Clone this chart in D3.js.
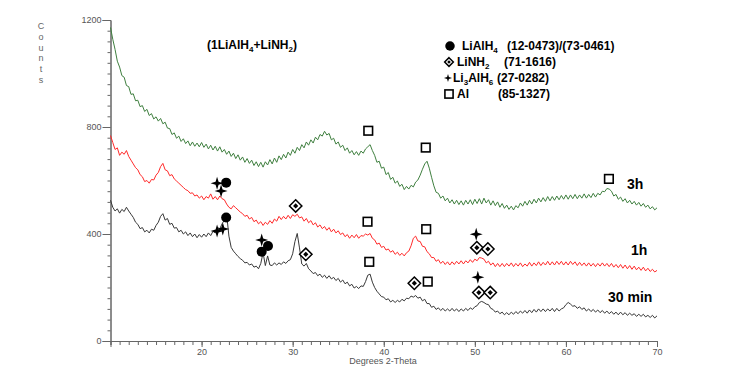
<!DOCTYPE html>
<html>
<head>
<meta charset="utf-8">
<script src="https://cdn.jsdelivr.net/npm/d3@7"></script>
<style>
body { margin: 0; background: #fff; }
</style>
</head>
<body>
<div id="chart"></div>
<script>
// 2-theta grid, 0.25 deg step from 10 to 70
var twoTheta = d3.range(241).map(function(i) { return 10 + i * 0.25; });

var counts3h = [
1172,1128,1090,1046,1024,992,986,955,951,922,924,898,900,876,880,858,866,843,850,830,
838,822,832,812,818,796,794,772,778,758,766,746,756,738,748,730,744,728,740,726,
742,724,736,718,732,714,728,710,726,706,716,698,710,690,702,682,696,676,688,668,
682,664,676,656,670,652,668,650,670,658,678,662,684,668,692,678,698,684,706,694,
716,702,724,712,734,722,744,732,752,740,762,752,772,766,784,770,776,752,758,736,
744,724,732,712,722,702,712,696,708,694,710,702,718,726,734,712,694,668,672,646,
650,622,630,604,612,590,598,578,586,566,578,568,582,576,594,602,620,642,662,672,
646,612,580,556,552,534,542,524,534,516,528,512,526,510,524,508,526,512,528,510,
530,514,532,512,534,516,528,508,524,506,520,500,514,496,508,492,504,490,506,498,
516,504,522,508,526,512,530,516,534,520,536,522,540,524,540,526,542,528,544,530,
546,530,546,532,548,532,546,534,550,534,548,536,552,538,552,546,560,558,570,568,
560,542,548,530,538,522,532,516,526,512,522,508,518,504,514,500,508,494,502,490,
498];

var counts1h = [
768,742,716,722,694,706,698,712,690,676,662,648,640,622,614,596,600,590,604,602,
620,630,652,664,640,636,618,622,606,598,590,582,574,566,562,552,554,542,546,534,
542,528,540,534,550,530,540,528,542,532,528,512,500,494,506,498,490,482,476,466,
470,456,462,446,452,438,446,432,444,436,450,440,456,448,466,454,466,456,470,458,
472,466,474,460,464,448,458,442,450,434,442,426,434,420,428,414,424,408,418,404,
412,398,404,390,398,384,396,386,398,384,394,392,400,396,402,384,378,362,366,350,
354,340,344,332,338,324,332,320,328,318,330,336,356,384,392,374,372,354,352,334,
326,312,312,298,304,290,298,286,296,284,296,286,298,288,300,288,300,292,304,294,
306,300,312,310,306,292,298,284,292,278,290,278,290,278,290,280,292,278,290,280,
292,278,288,280,294,280,292,282,296,282,294,284,298,284,296,284,298,286,298,284,
296,284,298,286,296,282,294,282,292,280,292,280,290,278,290,280,292,280,290,278,
290,276,286,274,286,272,284,270,282,268,280,266,276,264,276,262,272,260,268,258,
264];

var counts30min = [
526,500,486,494,478,492,484,500,486,474,462,444,436,420,424,408,414,404,418,414,
432,444,466,476,452,458,436,440,422,424,408,414,400,408,394,404,390,400,386,398,
388,400,390,404,394,410,404,424,420,438,452,474,392,350,336,326,316,308,302,292,
294,284,288,276,280,270,290,330,282,318,284,282,292,284,292,286,296,290,300,304,
326,372,402,348,288,280,290,270,262,252,256,244,250,238,246,234,244,232,238,226,
234,220,228,214,220,206,212,198,204,196,206,204,222,246,250,220,200,186,176,166,
164,154,158,146,152,144,152,146,156,150,160,158,168,164,170,160,164,150,156,140,
140,126,130,118,124,114,122,112,120,112,122,112,120,110,120,112,122,114,124,118,
128,132,144,148,144,138,136,122,118,108,112,102,108,98,106,98,108,100,110,102,
112,104,114,104,116,106,118,108,120,110,120,110,120,112,122,110,122,112,120,124,
136,144,138,130,132,122,128,118,124,112,120,110,118,108,116,106,114,104,112,102,
110,100,108,98,108,98,106,96,104,96,102,92,100,92,100,90,96,88,96,86,
94];

var seriesNames = ["3h", "1h", "30 min"];

// phase markers [2-theta, counts]
var lialh4Marks = [[22.7, 592], [22.7, 462], [26.6, 334], [27.29, 355]];
var linh2Marks = [[30.33, 505], [31.44, 324], [50.22, 349], [51.43, 344], [43.36, 216], [50.44, 181], [51.69, 181]];
var li3alh6Marks = [[21.7, 590], [22.14, 561], [21.7, 411], [22.33, 419], [26.6, 378], [50.15, 399], [50.33, 238]];
var alMarks = [[38.3, 786], [44.61, 723], [64.72, 606], [38.22, 446], [44.66, 418], [38.41, 296], [44.83, 222]];

var legendNames = ["LiAlH_4", "LiNH_2", "Li_3AlH_6", "Al"];
var legendCodes = ["(12-0473)/(73-0461)", "(71-1616)", "(27-0282)", "(85-1327)"];
var legendTypes = ["circle", "diamond", "star", "square"];

var yTicks = [0, 400, 800, 1200];
var xTicks = [20, 30, 40, 50, 60, 70];

function init() {
    var w = 735;
    var h = 389;

    var xScale = d3.scaleLinear().domain([10, 70]).range([110.5, 657]);
    var yScale = d3.scaleLinear().domain([0, 1200]).range([341, 20]);

    var svg = d3.select("#chart")
        .append("svg")
        .attr("width", w)
        .attr("height", h)
        .style("font-family", "Arial, 'Liberation Sans', sans-serif");

    var tickFont = "'Liberation Sans Narrow', 'Arial Narrow', Arial, sans-serif";
    var axisColor = "#666";

    // y axis: minor ticks then major with labels
    var yMinor = svg.append("g")
        .attr("transform", "translate(" + xScale(10) + ",0)")
        .call(d3.axisLeft(yScale).tickValues(d3.range(0, 1201, 40)).tickSize(3).tickFormat(""));
    var yMajor = svg.append("g")
        .attr("transform", "translate(" + xScale(10) + ",0)")
        .call(d3.axisLeft(yScale).tickValues(yTicks).tickSize(8).tickPadding(1).tickFormat(d3.format("d")));

    var xMinor = svg.append("g")
        .attr("transform", "translate(0," + yScale(0) + ")")
        .call(d3.axisBottom(xScale).tickValues(d3.range(10, 71, 1)).tickSize(4).tickFormat(""));
    var xMajor = svg.append("g")
        .attr("transform", "translate(0," + yScale(0) + ")")
        .call(d3.axisBottom(xScale).tickValues(xTicks).tickSize(6).tickPadding(2).tickFormat(d3.format("d")));

    [yMinor, yMajor, xMinor, xMajor].forEach(function(g) {
        g.selectAll("path, line").attr("stroke", axisColor);
        g.selectAll("text")
            .attr("fill", "#555")
            .style("font-family", tickFont)
            .style("font-size", "9px");
    });

    svg.append("text")
        .attr("x", 383)
        .attr("y", 364)
        .attr("text-anchor", "middle")
        .attr("fill", "#555")
        .style("font-family", tickFont)
        .style("font-size", "9px")
        .text("Degrees 2-Theta");

    svg.selectAll(".ylab")
        .data("Counts".split(""))
        .enter()
        .append("text")
        .attr("x", 41)
        .attr("y", function(d, i) { return 29 + i * 10.8; })
        .attr("text-anchor", "middle")
        .attr("fill", "#666")
        .style("font-family", tickFont)
        .style("font-size", "9px")
        .text(function(d) { return d; });

    // patterns
    var colors = ["#3f7f3f", "#ff2a2a", "#383838"];
    var allCounts = [counts3h, counts1h, counts30min];
    var line = d3.line()
        .x(function(d, i) { return xScale(twoTheta[i]); })
        .y(function(d) { return yScale(d); });

    svg.selectAll(".pattern")
        .data(allCounts)
        .enter()
        .append("path")
        .attr("fill", "none")
        .attr("stroke", function(d, i) { return colors[i]; })
        .attr("stroke-width", 1)
        .attr("d", line);

    // series labels
    var labelPos = [[627, 189], [631, 255], [608, 302]];
    svg.selectAll(".slabel")
        .data(seriesNames)
        .enter()
        .append("text")
        .attr("x", function(d, i) { return labelPos[i][0]; })
        .attr("y", function(d, i) { return labelPos[i][1]; })
        .style("font-size", "14px")
        .style("font-weight", "bold")
        .text(function(d) { return d; });

    function drawMark(g, type, s) {
        if (type === "circle") {
            g.append("circle").attr("r", 5 * s).attr("fill", "#000");
        } else if (type === "diamond") {
            var a = 6.2 * s, b = 2.6 * s;
            g.append("path")
                .attr("d", "M0," + (-a) + "L" + a + ",0L0," + a + "L" + (-a) + ",0Z")
                .attr("fill", "#fff").attr("stroke", "#000").attr("stroke-width", 1.5);
            g.append("path")
                .attr("d", "M0," + (-b) + "L" + b + ",0L0," + b + "L" + (-b) + ",0Z")
                .attr("fill", "#000");
        } else if (type === "star") {
            var o = 6.5 * s, n = 1.5 * s;
            g.append("path")
                .attr("d", "M0," + (-o) + "L" + n + "," + (-n) + "L" + o + ",0L" + n + "," + n +
                    "L0," + o + "L" + (-n) + "," + n + "L" + (-o) + ",0L" + (-n) + "," + (-n) + "Z")
                .attr("fill", "#000");
        } else {
            var q = 4.3 * s;
            g.append("rect")
                .attr("x", -q).attr("y", -q).attr("width", 2 * q).attr("height", 2 * q)
                .attr("fill", "#fff").attr("stroke", "#000").attr("stroke-width", 1.6);
        }
    }

    var markSets = [lialh4Marks, linh2Marks, li3alh6Marks, alMarks];
    markSets.forEach(function(set, k) {
        set.forEach(function(p) {
            var g = svg.append("g")
                .attr("transform", "translate(" + xScale(p[0]) + "," + yScale(p[1]) + ")");
            drawMark(g, legendTypes[k], 1);
        });
    });

    // text with _x subscripts
    function richText(t, str, sz) {
        var parts = str.split("_");
        t.append("tspan").text(parts[0]);
        for (var i = 1; i < parts.length; i++) {
            t.append("tspan")
                .attr("dy", 3)
                .style("font-size", (sz - 4) + "px")
                .text(parts[i].charAt(0));
            t.append("tspan").attr("dy", -3).text(parts[i].slice(1));
        }
    }

    var title = svg.append("text")
        .attr("x", 207)
        .attr("y", 49)
        .style("font-size", "12px")
        .style("font-weight", "bold");
    richText(title, "(1LiAlH_4+LiNH_2)", 12);

    // legend
    var legMarkX = [450, 449, 448, 449];
    var legTextX = [462, 457, 453, 457];
    var legCodeX = [507, 504, 497, 498];
    var legScale = [0.95, 0.7, 0.62, 0.95];
    legendNames.forEach(function(name, i) {
        var cy = 46 + i * 16;
        var g = svg.append("g").attr("transform", "translate(" + legMarkX[i] + "," + cy + ")");
        drawMark(g, legendTypes[i], legScale[i]);
        var t = svg.append("text")
            .attr("x", legTextX[i])
            .attr("y", cy + 4)
            .style("font-size", "12px")
            .style("font-weight", "bold");
        richText(t, name, 12);
        svg.append("text")
            .attr("x", legCodeX[i])
            .attr("y", cy + 4)
            .style("font-size", "12px")
            .style("font-weight", "bold")
            .text(legendCodes[i]);
    });
}

window.onload = init;
</script>
</body>
</html>
